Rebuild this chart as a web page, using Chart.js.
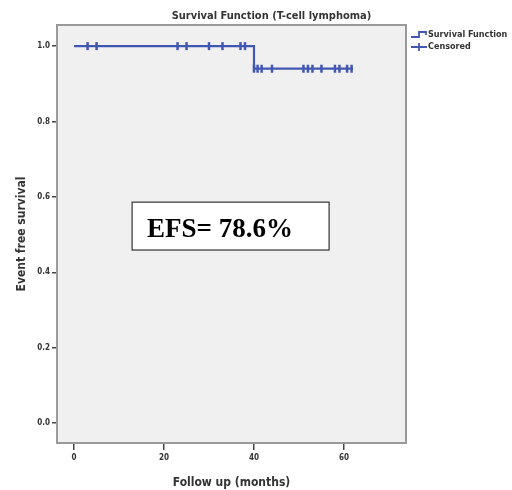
<!DOCTYPE html>
<html>
<head>
<meta charset="utf-8">
<script src="https://cdn.jsdelivr.net/npm/chart.js@4.4.1/dist/chart.umd.min.js"></script>
<style>
  html, body { margin: 0; padding: 0; background: #fff; }
  #wrap { width: 512px; height: 490px; }
</style>
</head>
<body>
<div id="wrap"><canvas id="kmChart" width="512" height="490"></canvas></div>
<script>
// Kaplan-Meier step curve (months, survival)
const survTimes = [0, 40, 62];
const survValues = [1.0, 0.94, 0.94];

// censored observations
const censorTimes = [3, 5, 23, 25, 30, 33, 37, 38, 40, 40.8, 41.7, 44, 51, 52, 53, 55, 58, 59, 60.7, 61.7];
const censorValues = [1, 1, 1, 1, 1, 1, 1, 1, 0.94, 0.94, 0.94, 0.94, 0.94, 0.94, 0.94, 0.94, 0.94, 0.94, 0.94, 0.94];

const xTicks = [0, 20, 40, 60];
const yTicks = [0.0, 0.2, 0.4, 0.6, 0.8, 1.0];

const chartTitle = 'Survival Function (T-cell lymphoma)';
const legendLabels = ['Survival Function', 'Censored'];
const efsText = 'EFS= 78.6%';

const lineColor = '#4257b2';
const narrow = '"Liberation Sans Narrow", "Arial Narrow", "DejaVu Sans Condensed", sans-serif';

// background, frame, title, legend and EFS box
const decorPlugin = {
    id: 'decor',
    beforeDraw(chart) {
        const { ctx, chartArea: a } = chart;
        ctx.save();
        ctx.fillStyle = '#f0f0f0';
        ctx.fillRect(a.left, a.top, a.right - a.left, a.bottom - a.top);
        ctx.restore();
    },
    afterDraw(chart) {
        const { ctx, chartArea: a } = chart;
        const xs = chart.scales.x, ys = chart.scales.y;
        ctx.save();
        // frame
        ctx.strokeStyle = '#9a9a9a';
        ctx.lineWidth = 2;
        ctx.strokeRect(a.left, a.top, a.right - a.left, a.bottom - a.top);

        // title
        ctx.fillStyle = '#333';
        ctx.font = 'bold 11px ' + narrow;
        ctx.textAlign = 'center';
        ctx.textBaseline = 'alphabetic';
        ctx.fillText(chartTitle, (a.left + a.right) / 2 + 40, 19);

        // legend
        const lx = a.right + 5;
        ctx.strokeStyle = lineColor;
        ctx.lineWidth = 1.8;
        ctx.beginPath();
        ctx.moveTo(lx, 37);
        ctx.lineTo(lx + 8, 37);
        ctx.lineTo(lx + 8, 32);
        ctx.lineTo(lx + 15, 32);
        ctx.lineTo(lx + 15, 35);
        ctx.stroke();
        ctx.beginPath();
        ctx.moveTo(lx, 47);
        ctx.lineTo(lx + 16, 47);
        ctx.moveTo(lx + 8, 43);
        ctx.lineTo(lx + 8, 51);
        ctx.stroke();
        ctx.fillStyle = '#333';
        ctx.font = 'bold 9px ' + narrow;
        ctx.textAlign = 'left';
        ctx.textBaseline = 'middle';
        ctx.fillText(legendLabels[0], lx + 17, 35);
        ctx.fillText(legendLabels[1], lx + 17, 47);

        // EFS annotation box
        const bx0 = xs.getPixelForValue(12.9), bx1 = xs.getPixelForValue(56.7);
        const by0 = ys.getPixelForValue(0.586), by1 = ys.getPixelForValue(0.459);
        ctx.fillStyle = '#fff';
        ctx.fillRect(bx0, by0, bx1 - bx0, by1 - by0);
        ctx.strokeStyle = '#333';
        ctx.lineWidth = 1.2;
        ctx.strokeRect(bx0, by0, bx1 - bx0, by1 - by0);
        ctx.fillStyle = '#000';
        ctx.font = 'bold 27px "Liberation Serif", "Times New Roman", serif';
        ctx.textBaseline = 'alphabetic';
        ctx.fillText(efsText, bx0 + 15, by0 + 35);
        ctx.restore();
    }
};

const ctx = document.getElementById('kmChart').getContext('2d');
new Chart(ctx, {
    type: 'scatter',
    data: {
        datasets: [
            {
                label: legendLabels[0],
                data: survTimes.map((t, i) => ({ x: t, y: survValues[i] })),
                showLine: true,
                stepped: true,
                borderColor: lineColor,
                borderWidth: 2.2,
                pointRadius: 0,
                fill: false
            },
            {
                label: legendLabels[1],
                data: censorTimes.map((t, i) => ({ x: t, y: censorValues[i] })),
                showLine: false,
                pointStyle: 'line',
                rotation: 90,
                pointRadius: 4,
                borderColor: lineColor,
                borderWidth: 2.5
            }
        ]
    },
    options: {
        responsive: false,
        animation: false,
        layout: { padding: { top: 25, right: 106, left: 0, bottom: -4 } },
        plugins: {
            legend: { display: false },
            title: { display: false },
            tooltip: { enabled: false }
        },
        scales: {
            x: {
                type: 'linear',
                min: -3.8,
                max: 73.8,
                afterFit(s) { s.height = 51; },
                afterBuildTicks(s) { s.ticks = xTicks.map(v => ({ value: v })); },
                border: { display: false },
                grid: { drawOnChartArea: false, tickLength: 7, color: '#444', lineWidth: 1.5 },
                ticks: {
                    color: '#333',
                    font: { family: narrow, size: 8, weight: 'bold' },
                    padding: 3
                },
                title: {
                    display: true,
                    text: 'Follow up (months)',
                    color: '#333',
                    font: { family: narrow, size: 12, weight: 'bold' },
                    padding: { top: 6 }
                }
            },
            y: {
                type: 'linear',
                min: -0.053,
                max: 1.056,
                afterFit(s) { s.width = 57; },
                afterBuildTicks(s) { s.ticks = yTicks.map(v => ({ value: v })); },
                border: { display: false },
                grid: { drawOnChartArea: false, tickLength: 5, color: '#444', lineWidth: 1.5 },
                ticks: {
                    color: '#333',
                    font: { family: narrow, size: 8, weight: 'bold' },
                    padding: 2,
                    callback: v => v.toFixed(1)
                },
                title: {
                    display: true,
                    text: 'Event free survival',
                    color: '#333',
                    font: { family: narrow, size: 12, weight: 'bold' },
                    padding: { top: 15, bottom: 0 }
                }
            }
        }
    },
    plugins: [decorPlugin]
});
</script>
</body>
</html>
